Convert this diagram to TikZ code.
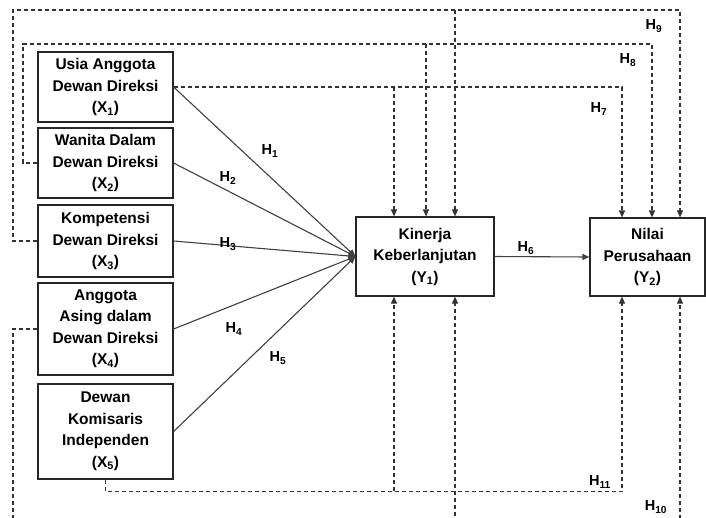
\documentclass[tikz,border=0pt]{standalone}
\usepackage{fontspec}
\setmainfont{Liberation Sans}
\usetikzlibrary{arrows.meta, positioning, calc}

\begin{document}
\begin{tikzpicture}[x=1pt, y=-1pt,
    varbox/.style={draw=black!85, line width=1.2pt, align=center, inner sep=2pt, minimum width=135pt, font=\fontsize{15.5}{21.5}\selectfont\bfseries},
    hlabel/.style={inner sep=0pt, font=\fontsize{14.5}{16}\selectfont\bfseries},
    arr/.style={-{Triangle[length=7pt, width=6pt]}, line width=1.1pt, draw=black!75},
    darr/.style={-{Triangle[length=7pt, width=6pt]}, line width=1.1pt, draw=black!80, dash pattern=on 4pt off 3pt},
]
\useasboundingbox (0,0) rectangle (706,517);
\clip (0,0) rectangle (706,517);

% Independent variables on the left
\node[varbox, minimum height=70pt] (x1) at (105.5,87) {Usia Anggota\\Dewan Direksi\\(X\textsubscript{1})};
\node[varbox, minimum height=70pt] (x2) at (105.5,163) {Wanita Dalam\\Dewan Direksi\\(X\textsubscript{2})};
\node[varbox, minimum height=72pt] (x3) at (105.5,241) {Kompetensi\\Dewan Direksi\\(X\textsubscript{3})};
\node[varbox, minimum height=92pt] (x4) at (105.5,329) {Anggota\\Asing dalam\\Dewan Direksi\\(X\textsubscript{4})};
\node[varbox, minimum height=95pt] (x5) at (105.5,431.5) {Dewan\\Komisaris\\Independen\\(X\textsubscript{5})};

% Mediator and dependent variable
\node[varbox, minimum width=138pt, minimum height=79pt] (y1) at (425,256.5) {Kinerja\\Keberlanjutan\\(Y\textsubscript{1})};
\node[varbox, minimum width=115pt, minimum height=78pt] (y2) at (647.5,257) {Nilai\\Perusahaan\\(Y\textsubscript{2})};

% Direct paths H1-H6
\foreach \v in {x1,x2,x3,x4,x5} {
    \draw[arr] (\v.east) -- (y1.west);
}
\draw[arr] (y1.east) -- (y2.west);

% Indirect paths (dashed)
\draw[darr] (x3.west) -| (13,10) -| ($(y2.north)+(32.5,0)$);
\draw[darr] (455,10) -- ($(y1.north)+(30,0)$);
\draw[darr] (x2.west) -| (23,44) -| ($(y2.north)+(4.5,0)$);
\draw[darr] (426,44) -- ($(y1.north)+(1,0)$);
\draw[darr] (x1.east) -| ($(y2.north)+(-25.5,0)$);
\draw[darr] (394,87) -- ($(y1.north)+(-31,0)$);
\draw[darr] (x4.west) -| (13,530) -| ($(y2.south)+(32.5,0)$);
\draw[darr] (455,530) -- ($(y1.south)+(30,0)$);
\draw[darr] (x5.south) -- ++(0,12) -| ($(y2.south)+(-25.5,0)$);
\draw[darr] (394,491) -- ($(y1.south)+(-31,0)$);

% Hypothesis labels
\node[hlabel] (h1) at (270,151) {H\textsubscript{1}};
\node[hlabel] (h2) at (228,178) {H\textsubscript{2}};
\node[hlabel] (h3) at (228,244) {H\textsubscript{3}};
\node[hlabel] (h4) at (234,329) {H\textsubscript{4}};
\node[hlabel] (h5) at (278,358) {H\textsubscript{5}};
\node[hlabel] (h6) at (526,248) {H\textsubscript{6}};
\node[hlabel] (h7) at (599,109) {H\textsubscript{7}};
\node[hlabel] (h8) at (628,60) {H\textsubscript{8}};
\node[hlabel] (h9) at (654,26) {H\textsubscript{9}};
\node[hlabel] (h10) at (656,507) {H\textsubscript{10}};
\node[hlabel] (h11) at (600,482) {H\textsubscript{11}};

\end{tikzpicture}
\end{document}
